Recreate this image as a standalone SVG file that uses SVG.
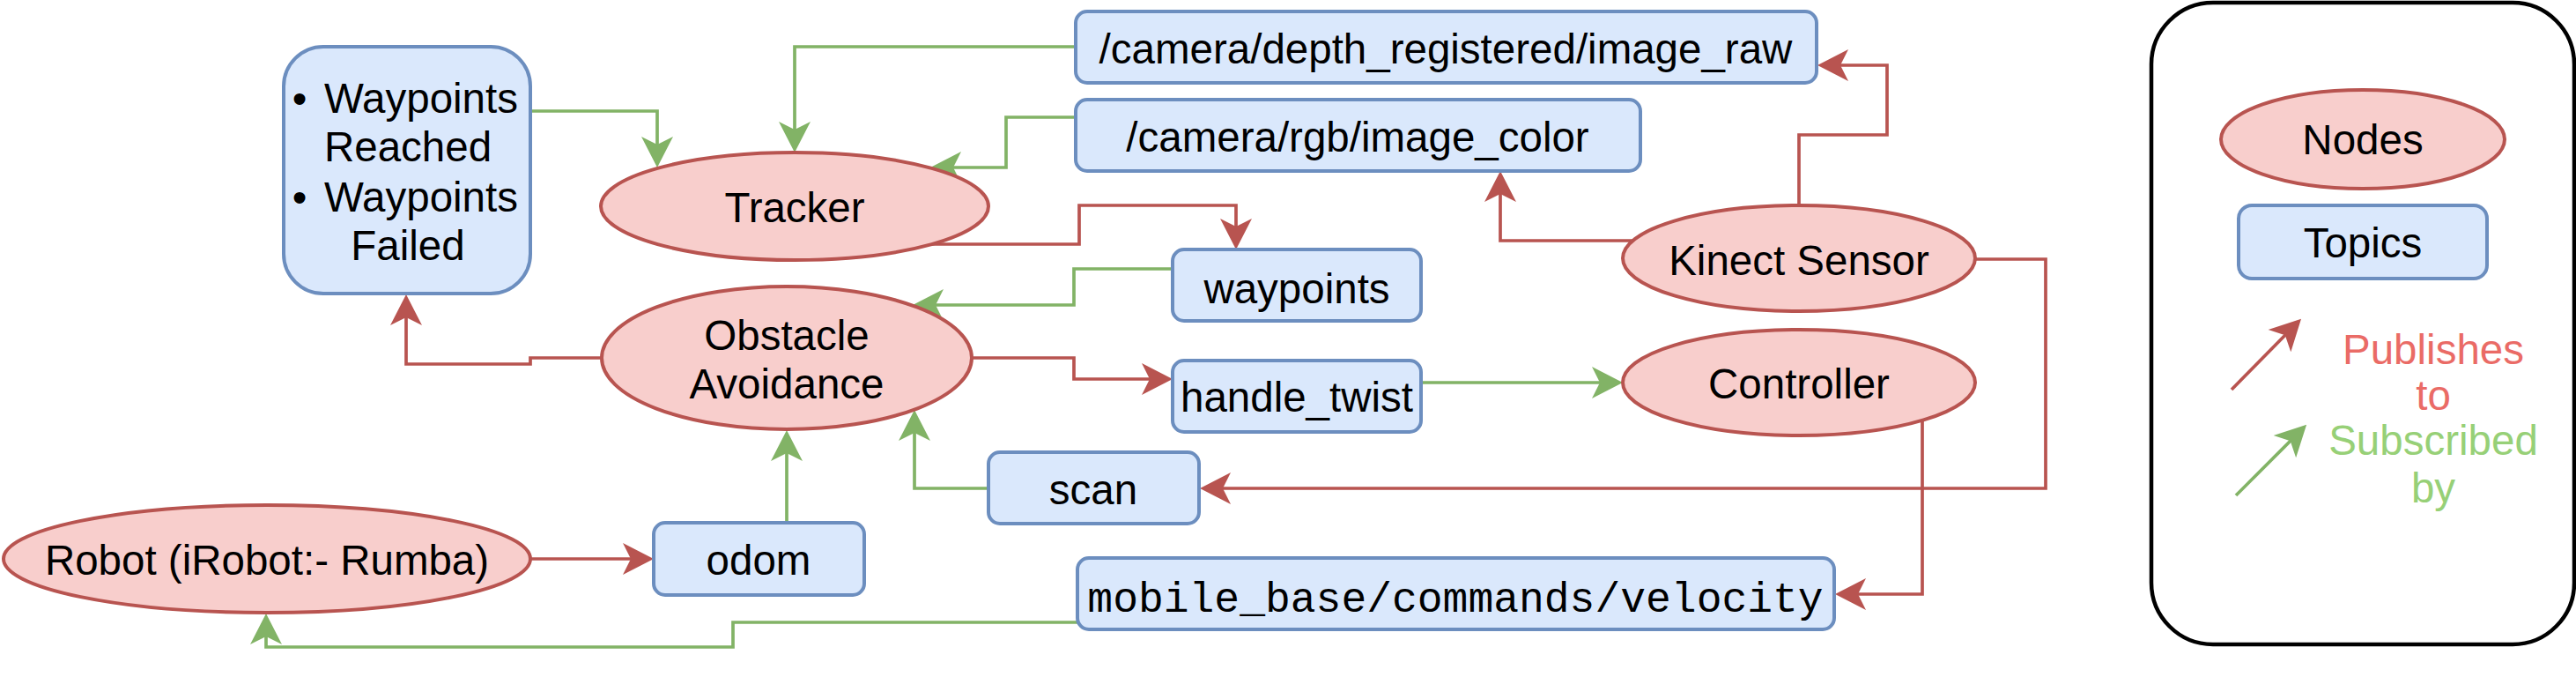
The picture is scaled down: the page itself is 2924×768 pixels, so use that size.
<svg xmlns="http://www.w3.org/2000/svg" width="2924" height="768" viewBox="0 0 2924 768">
<style>
.node{fill:#f8cecc;stroke:#b85450;stroke-width:4}
.topic{fill:#dae8fc;stroke:#6c8ebf;stroke-width:4}
.t{font-family:"Liberation Sans",Arial,Helvetica,sans-serif;font-size:47.5px;fill:#000;text-anchor:middle}
.mono{font-family:"Liberation Mono","Courier New",monospace;font-size:48px;fill:#000;text-anchor:middle}
.pub{fill:none;stroke:#b85450;stroke-width:3.7;marker-end:url(#ar)}
.sub{fill:none;stroke:#82b366;stroke-width:3.7;marker-end:url(#ag)}
</style>
<defs>
<marker id="ar" markerUnits="userSpaceOnUse" markerWidth="40" markerHeight="40" viewBox="-37 -20 40 40" refX="-20" refY="0" orient="auto"><path d="M0,0 L-35,-18 L-26,0 L-35,18 Z" fill="#b85450"/></marker>
<marker id="ag" markerUnits="userSpaceOnUse" markerWidth="40" markerHeight="40" viewBox="-37 -20 40 40" refX="-20" refY="0" orient="auto"><path d="M0,0 L-35,-18 L-26,0 L-35,18 Z" fill="#82b366"/></marker>
</defs>
<rect width="2924" height="768" fill="#fff"/>

<g id="connectors">
<path class="sub" d="M602,126 H746 V170"/>
<path class="sub" d="M1221,53 H902 V153"/>
<path class="sub" d="M1221,133 H1142 V190 H1076"/>
<path class="pub" d="M1058,277 H1225 V233 H1403 V263"/>
<path class="sub" d="M1331,305 H1219 V346 H1056"/>
<path class="pub" d="M1103,406 H1219 V430 H1311"/>
<path class="sub" d="M1613,434 H1822"/>
<path class="pub" d="M2242,294 H2322 V554 H1382"/>
<path class="sub" d="M1122,554 H1038 V485"/>
<path class="sub" d="M893,593 V508"/>
<path class="pub" d="M602,634 H722"/>
<path class="pub" d="M2182,477 V674 H2103"/>
<path class="sub" d="M1223,706 H832 V734 H302 V716"/>
<path class="pub" d="M683,406 H602 V413 H461 V354"/>
<path class="pub" d="M1853,273 H1703 V214"/>
<path class="pub" d="M2042,233 V153 H2142 V74 H2083"/>
</g>

<g id="waypoint-status">
<rect class="topic" x="322" y="53" width="280" height="280" rx="45" ry="45"/>
<text class="t" x="340" y="128">•</text>
<text class="t" x="478" y="128">Waypoints</text>
<text class="t" x="463" y="183">Reached</text>
<text class="t" x="340" y="240">•</text>
<text class="t" x="478" y="240">Waypoints</text>
<text class="t" x="463" y="295">Failed</text>
</g>
<g id="tracker"><ellipse class="node" cx="902" cy="234" rx="220" ry="61"/><text class="t" x="902" y="252">Tracker</text></g>
<g id="obstacle-avoidance"><ellipse class="node" cx="893" cy="406" rx="210" ry="81"/><text class="t" x="893" y="397">Obstacle</text><text class="t" x="893" y="452">Avoidance</text></g>
<g id="robot"><ellipse class="node" cx="303" cy="634" rx="299" ry="61"/><text class="t" x="303" y="652">Robot (iRobot:- Rumba)</text></g>
<g id="kinect"><ellipse class="node" cx="2042" cy="293" rx="200" ry="60"/><text class="t" x="2042" y="312">Kinect Sensor</text></g>
<g id="controller"><ellipse class="node" cx="2042" cy="434" rx="200" ry="60"/><text class="t" x="2042" y="452">Controller</text></g>

<g id="depth"><rect class="topic" x="1221" y="13" width="841" height="81" rx="13"/><text class="t" x="1641" y="72">/camera/depth_registered/image_raw</text></g>
<g id="rgb"><rect class="topic" x="1221" y="113" width="641" height="81" rx="13"/><text class="t" x="1541" y="172">/camera/rgb/image_color</text></g>
<g id="waypoints"><rect class="topic" x="1331" y="283" width="282" height="81" rx="13"/><text class="t" x="1472" y="344">waypoints</text></g>
<g id="handle_twist"><rect class="topic" x="1331" y="409" width="282" height="81" rx="13"/><text class="t" x="1472" y="467">handle_twist</text></g>
<g id="scan"><rect class="topic" x="1122" y="513" width="239" height="81" rx="13"/><text class="t" x="1241" y="572">scan</text></g>
<g id="odom"><rect class="topic" x="742" y="593" width="239" height="82" rx="13"/><text class="t" x="861" y="652">odom</text></g>
<g id="velocity"><rect class="topic" x="1223" y="633" width="859" height="81" rx="13"/><text class="mono" x="1652" y="694">mobile_base/commands/velocity</text></g>

<g id="legend">
<rect x="2442" y="3" width="480" height="728" rx="70" ry="70" fill="#fff" stroke="#000" stroke-width="4.5"/>
<ellipse class="node" cx="2682" cy="158" rx="161" ry="56"/>
<text class="t" x="2682" y="175">Nodes</text>
<rect class="topic" x="2541" y="233" width="282" height="83" rx="15"/>
<text class="t" x="2682" y="292">Topics</text>
<path class="pub" d="M2533,442 L2598,376"/>
<path class="sub" d="M2538,562 L2604,496"/>
<text class="t" x="2762" y="413" style="fill:#ea6b66">Publishes</text>
<text class="t" x="2762" y="465" style="fill:#ea6b66">to</text>
<text class="t" x="2762" y="516" style="fill:#97d077">Subscribed</text>
<text class="t" x="2762" y="570" style="fill:#97d077">by</text>
</g>
</svg>
